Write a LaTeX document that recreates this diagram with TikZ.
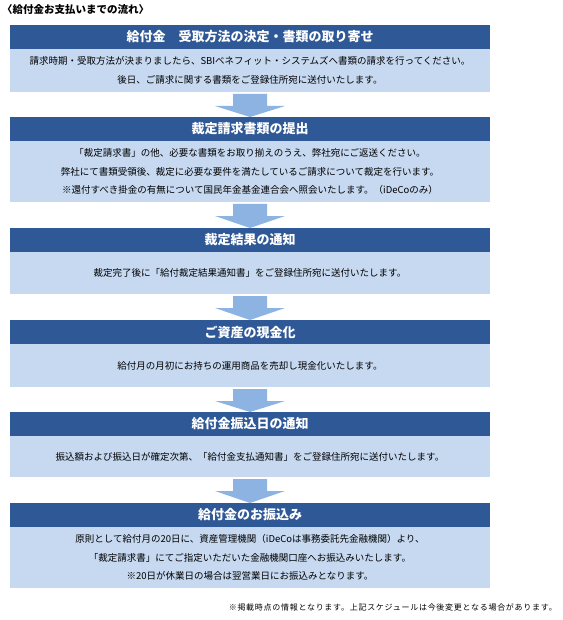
\documentclass[tikz,border=0pt]{standalone}
\usepackage{fontspec}
\setmainfont{Noto Sans CJK JP}
\newfontfamily\footfont[LetterSpace=9]{Noto Sans CJK JP}
\usetikzlibrary{calc}
\definecolor{hdrc}{HTML}{2F5897}
\definecolor{bodyc}{HTML}{C6D9F1}
\definecolor{arrc}{HTML}{8DB3E2}
\tikzset{
  hdrbox/.style={fill=hdrc, text=white, anchor=north west, inner sep=0pt, outer sep=0pt,
    minimum width=480pt, minimum height=24pt, font=\fontsize{13}{15}\selectfont\bfseries},
  bodybox/.style={fill=bodyc, text=black, anchor=north west, inner sep=0pt, outer sep=0pt,
    minimum width=480pt, align=center, font=\fontsize{9.5}{18.5}\selectfont},
  arrfill/.style={fill=arrc}
}
\newcommand\blockarrow[2]{%
  \fill[arrfill] ($(#1.south)+(-17,2)$) -- ($(#1.south)+(17,2)$) -- ($(#1.south)+(17,14)$)
    -- ($(#1.south)+(35,14)$) -- (#2.north) -- ($(#1.south)+(-35,14)$)
    -- ($(#1.south)+(-17,14)$) -- cycle;}
\begin{document}
\begin{tikzpicture}[x=1pt,y=-1pt]
\useasboundingbox (0,0) rectangle (562,620);
\node[anchor=west, inner sep=0pt, font=\fontsize{10.5}{12}\selectfont\bfseries] (title) at (2,10) {〈給付金お支払いまでの流れ〉};

\node[hdrbox] (h1) at (10,25) {給付金　受取方法の決定・書類の取り寄せ};
\node[bodybox, minimum height=43pt] (b1) at (10,49) {請求時期・受取方法が決まりましたら、SBIベネフィット・システムズへ書類の請求を行ってください。\\後日、ご請求に関する書類をご登録住所宛に送付いたします。};

\node[hdrbox] (h2) at (10,117) {裁定請求書類の提出};
\node[bodybox, minimum height=61pt] (b2) at (10,141) {「裁定請求書」の他、必要な書類をお取り揃えのうえ、弊社宛にご返送ください。\\弊社にて書類受領後、裁定に必要な要件を満たしているご請求について裁定を行います。\\※還付すべき掛金の有無について国民年金基金連合会へ照会いたします。（iDeCoのみ）};

\node[hdrbox] (h3) at (10,228) {裁定結果の通知};
\node[bodybox, minimum height=42pt] (b3) at (10,252) {裁定完了後に「給付裁定結果通知書」をご登録住所宛に送付いたします。};

\node[hdrbox] (h4) at (10,320) {ご資産の現金化};
\node[bodybox, minimum height=43pt] (b4) at (10,344) {給付月の月初にお持ちの運用商品を売却し現金化いたします。};

\node[hdrbox] (h5) at (10,412) {給付金振込日の通知};
\node[bodybox, minimum height=41pt] (b5) at (10,436) {振込額および振込日が確定次第、「給付金支払通知書」をご登録住所宛に送付いたします。};

\node[hdrbox] (h6) at (10,503) {給付金のお振込み};
\node[bodybox, minimum height=61pt] (b6) at (10,527) {原則として給付月の20日に、資産管理機関（iDeCoは事務委託先金融機関）より、\\「裁定請求書」にてご指定いただいた金融機関口座へお振込みいたします。\\※20日が休業日の場合は翌営業日にお振込みとなります。};

\blockarrow{b1}{h2}
\blockarrow{b2}{h3}
\blockarrow{b3}{h4}
\blockarrow{b4}{h5}
\blockarrow{b5}{h6}

\node[anchor=east, inner sep=0pt, font=\fontsize{8}{9}\footfont] (foot) at (557,607) {※掲載時点の情報となります。上記スケジュールは今後変更となる場合があります。};
\end{tikzpicture}
\end{document}
